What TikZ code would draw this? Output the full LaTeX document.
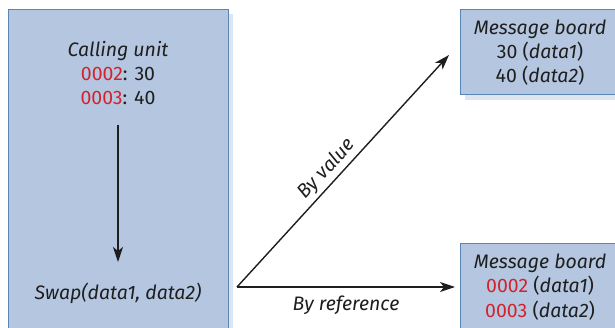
\documentclass[tikz,border=0pt]{standalone}
\usepackage{fontspec}
\setmainfont{Fira Sans}
\usetikzlibrary{arrows.meta}
\definecolor{boxfill}{HTML}{B5C7E0}
\definecolor{boxline}{HTML}{5A86B6}
\definecolor{shadowc}{HTML}{DDE5F0}
\definecolor{addr}{HTML}{D1232E}
\definecolor{ink}{HTML}{1E1E1E}
\tikzset{
  board/.style={draw=boxline, line width=1.3pt, fill=boxfill, inner sep=0pt},
  shade/.style={fill=shadowc, draw=none},
  txt/.style={font=\fontsize{19.5}{22}\selectfont, text=ink, inner sep=0pt, anchor=base},
  conn/.style={draw=ink, line width=1.4pt, -{Stealth[length=15pt,width=10pt,inset=4pt]}}
}
\begin{document}
\begin{tikzpicture}[x=1pt,y=-1pt]
\useasboundingbox (0,0) rectangle (615,328);
% shadows
\fill[shade] (12,14) rectangle (233,340);
\fill[shade] (465,14) rectangle (620,100);
\fill[shade] (465,248) rectangle (620,340);
% boxes
\node[board, minimum width=220pt, minimum height=330pt, anchor=north west] (caller) at (8,9) {};
\node[board, minimum width=165pt, minimum height=85pt, anchor=north west] (boardv) at (460,9) {};
\node[board, minimum width=165pt, minimum height=100pt, anchor=north west] (boardr) at (460,243) {};
% caller texts
\node[txt] (cu) at (118,57) {\itshape Calling unit};
\node[txt] (l1) at (118,81) {\textcolor{addr}{0002}: 30};
\node[txt] (l2) at (118,105) {\textcolor{addr}{0003}: 40};
\node[txt] (swap) at (118,299) {\itshape Swap(data1, data2)};
% boards texts
\node[txt] (mv) at (540,35) {\itshape Message board};
\node[txt] (mv1) at (540,59) {30 (\textit{data1})};
\node[txt] (mv2) at (540,83) {40 (\textit{data2})};
\node[txt] (mr) at (540,269) {\itshape Message board};
\node[txt] (mr1) at (540,293) {\textcolor{addr}{0002} (\textit{data1})};
\node[txt] (mr2) at (540,317) {\textcolor{addr}{0003} (\textit{data2})};
% connectors
\coordinate (vtop) at (118,125);
\coordinate (vbot) at (118,262);
\coordinate (src) at (237,287);
\coordinate (tv) at (449,55);
\coordinate (tr) at (455,287);
\draw[conn] (vtop) -- (vbot);
\draw[conn] (src) -- (tv) node[pos=0.47, sloped, above=3pt, txt, anchor=south] (lv) {\itshape By value};
\draw[conn] (src) -- (tr) node[pos=0.5, below=8pt, txt, anchor=north] (lr) {\itshape By reference};
\end{tikzpicture}
\end{document}
